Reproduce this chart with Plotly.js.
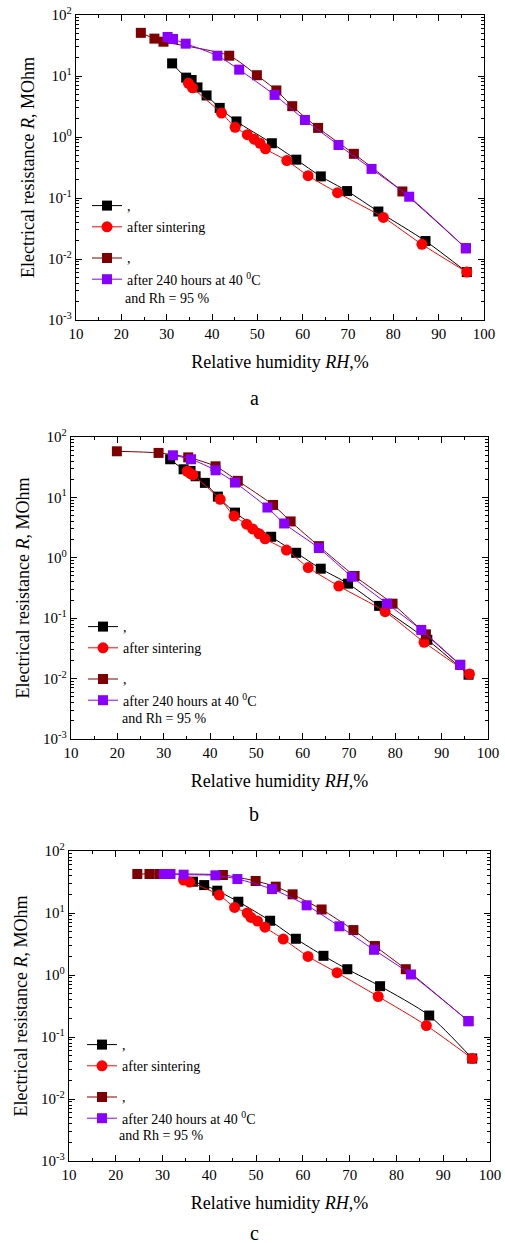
<!DOCTYPE html>
<html>
<head>
<meta charset="utf-8">
<script src="https://cdn.plot.ly/plotly-3.0.1.min.js"></script>
<style>html,body{margin:0;padding:0;background:#fff;}#chart{width:505px;height:1243px;}</style>
</head>
<body>
<div id="chart"></div>
<script>
// ---------- Panel a ----------
const aBlackX = [31.2, 34.3, 35.5, 36.8, 38.8, 41.7, 45.4, 53.2, 58.6, 64.0, 69.8, 76.7, 87.1, 96.2];
const aBlackY = [16.1, 9.4, 8.6, 6.5, 4.8, 3.0, 1.8, 0.79, 0.425, 0.226, 0.130, 0.060, 0.0197, 0.0061];
const aRedX = [34.8, 35.7, 42.1, 45.1, 47.8, 49.3, 50.6, 51.8, 56.5, 61.2, 67.7, 77.8, 86.3, 96.2];
const aRedY = [7.6, 6.4, 2.47, 1.44, 1.09, 0.92, 0.79, 0.64, 0.41, 0.232, 0.122, 0.048, 0.0174, 0.0061];
const aMaroonX = [24.3, 27.3, 29.3, 43.8, 49.9, 54.2, 57.7, 63.4, 71.3, 82.0, 96.0];
const aMaroonY = [51, 41, 36.5, 21.5, 10.3, 5.8, 3.2, 1.41, 0.53, 0.128, 0.015];
const aPurpleX = [30.2, 31.4, 34.2, 41.2, 46.0, 53.8, 60.5, 67.9, 75.2, 83.5, 96.0];
const aPurpleY = [43.6, 40.4, 33.9, 21.5, 12.7, 4.9, 1.90, 0.74, 0.30, 0.105, 0.015];

// ---------- Panel b ----------
const bBlackX = [31.4, 34.3, 35.8, 36.9, 38.9, 41.7, 45.4, 53.2, 58.6, 63.9, 69.8, 76.5, 86.9, 95.8];
const bBlackY = [42.8, 29.2, 27.4, 22.4, 17.4, 10.3, 5.6, 2.23, 1.21, 0.66, 0.373, 0.160, 0.044, 0.0116];
const bRedX = [35.1, 35.8, 36.3, 42.2, 45.2, 47.9, 49.2, 50.6, 51.9, 56.5, 61.2, 67.8, 77.8, 86.2, 96.0];
const bRedY = [27.1, 24.8, 23.6, 9.3, 4.9, 3.6, 3.0, 2.5, 2.06, 1.34, 0.69, 0.34, 0.128, 0.040, 0.0119];
const bMaroonX = [19.9, 28.9, 35.3, 41.2, 46.0, 53.6, 57.4, 63.5, 71.2, 79.4, 86.6, 94.0];
const bMaroonY = [58, 54.5, 46, 32.7, 18.8, 7.5, 4.0, 1.56, 0.50, 0.174, 0.054, 0.0169];
const bPurpleX = [32.0, 35.9, 41.2, 45.4, 52.4, 56.0, 63.5, 70.6, 78.2, 85.6, 94.0];
const bPurpleY = [49.8, 42.8, 28.1, 17.6, 6.8, 3.7, 1.45, 0.486, 0.174, 0.064, 0.0169];

// ---------- Panel c ----------
const cBlackX = [36.5, 38.9, 41.7, 46.2, 53.0, 58.5, 64.4, 69.5, 76.5, 87.0, 96.2];
const cBlackY = [32, 28.2, 22.9, 15.2, 7.5, 3.84, 2.04, 1.24, 0.66, 0.222, 0.045];
const cRedX = [34.5, 35.8, 42.1, 45.4, 48.1, 48.9, 50.3, 51.9, 55.8, 61.1, 67.3, 76.1, 86.4, 96.2];
const cRedY = [34, 31.6, 19.5, 12.3, 10, 8.5, 7.4, 5.9, 3.8, 1.99, 1.09, 0.45, 0.153, 0.045];
const cMaroonX = [24.6, 27.2, 29.3, 42.9, 49.9, 54.2, 57.8, 64.0, 70.8, 75.4, 82.0, 95.4];
const cMaroonY = [42.6, 42.6, 42.6, 41, 32.8, 26.6, 20, 11.4, 5.3, 2.93, 1.24, 0.18];
const cPurpleX = [30.3, 31.7, 34.5, 41.3, 46.0, 53.4, 60.8, 67.8, 75.2, 83.1, 95.4];
const cPurpleY = [42.6, 42.6, 41.5, 40.5, 35.3, 24.3, 13.3, 6.1, 2.55, 1.02, 0.18];

// ---------- Labels ----------
const seriesNames = [",", "after sintering", ",", "after 240 hours at 40 <sup>0</sup>C"];
const legendExtraLine = "and Rh = 95 %";
const yTickVals = [0.001, 0.01, 0.1, 1, 10, 100];
const yTickText = ["10<sup>-3</sup>", "10<sup>-2</sup>", "10<sup>-1</sup>", "10<sup>0</sup>", "10<sup>1</sup>", "10<sup>2</sup>"];
const xTickVals = [10, 20, 30, 40, 50, 60, 70, 80, 90, 100];
const panelLabels = ["a", "b", "c"];
const xTitle = "Relative humidity <i>RH</i>,%";
const yTitle = "Electrical resistance <i>R</i>, MOhm";

const FONT = '"Liberation Serif", "Times New Roman", serif';
const colors = ["#000000", "#ff0000", "#7f0000", "#8a00ff"];
const symbols = ["square", "circle", "square", "square"];

const panels = [
  {xs: [aBlackX, aRedX, aMaroonX, aPurpleX], ys: [aBlackY, aRedY, aMaroonY, aPurpleY]},
  {xs: [bBlackX, bRedX, bMaroonX, bPurpleX], ys: [bBlackY, bRedY, bMaroonY, bPurpleY]},
  {xs: [cBlackX, cRedX, cMaroonX, cPurpleX], ys: [cBlackY, cRedY, cMaroonY, cPurpleY]}
];

const W = 505, H = 1243;
const boxes = [
  {l: 76, r: 484, t: 15, b: 320, legY: 190, legX: 87, extraX: 123, extraY: 298, lab: 398},
  {l: 71, r: 488, t: 437, b: 739, legY: 611, legX: 83, extraX: 120, extraY: 718, lab: 814},
  {l: 69, r: 490, t: 851, b: 1161, legY: 1029, legX: 82, extraX: 117, extraY: 1135, lab: 1233}
];

const traces = [];
const layout = {
  width: W, height: H,
  margin: {l: 0, r: 0, t: 0, b: 0},
  paper_bgcolor: "#ffffff", plot_bgcolor: "#ffffff",
  font: {family: FONT, color: "#000", size: 15},
  showlegend: true,
  annotations: []
};

panels.forEach((p, pi) => {
  const sfx = pi === 0 ? "" : String(pi + 1);
  const legName = "legend" + sfx;
  for (let s = 0; s < 4; s++) {
    traces.push({
      type: "scatter", mode: "lines+markers",
      x: p.xs[s], y: p.ys[s],
      xaxis: "x" + sfx, yaxis: "y" + sfx,
      name: seriesNames[s],
      legend: legName,
      legendgroup: "g" + pi + "_" + (s < 2 ? 0 : 1),
      line: {color: colors[s], width: 1, shape: "spline", smoothing: 0.7},
      marker: {color: colors[s], symbol: symbols[s], size: s === 1 ? 11 : 10, line: {width: 0}}
    });
  }
  const bx = boxes[pi];
  layout["xaxis" + sfx] = {
    domain: [bx.l / W, bx.r / W],
    anchor: "y" + sfx,
    range: [10, 100],
    tickvals: xTickVals,
    ticks: "inside", ticklen: 6, tickwidth: 1, tickcolor: "#000",
    minor: {dtick: 5, ticks: "inside", ticklen: 3, tickwidth: 1, tickcolor: "#000", showgrid: false},
    showline: true, linecolor: "#000", linewidth: 1.2, mirror: "ticks",
    showgrid: false, zeroline: false,
    tickfont: {family: FONT, size: 15, color: "#000"},
    title: {text: xTitle, font: {family: FONT, size: 18, color: "#000"}, standoff: 14},
    automargin: false
  };
  layout["yaxis" + sfx] = {
    domain: [1 - bx.b / H, 1 - bx.t / H],
    anchor: "x" + sfx,
    type: "log",
    range: [-3, 2],
    tickmode: "array", tickvals: yTickVals, ticktext: yTickText,
    ticks: "inside", ticklen: 6, tickwidth: 1, tickcolor: "#000",
    minor: {dtick: "D1", ticks: "inside", ticklen: 3, tickwidth: 1, tickcolor: "#000", showgrid: false},
    showline: true, linecolor: "#000", linewidth: 1.2, mirror: "ticks",
    showgrid: false, zeroline: false,
    tickfont: {family: FONT, size: 15, color: "#000"},
    title: {text: yTitle, font: {family: FONT, size: 18, color: "#000"}, standoff: 8},
    automargin: false
  };
  layout[legName] = {
    x: bx.legX / W, y: 1 - bx.legY / H,
    xanchor: "left", yanchor: "top",
    bgcolor: "rgba(0,0,0,0)", borderwidth: 0,
    font: {family: FONT, size: 14, color: "#000"},
    tracegroupgap: 10, valign: "middle",
    itemwidth: 30
  };
  layout.annotations.push({
    xref: "paper", yref: "paper",
    x: bx.extraX / W, y: 1 - bx.extraY / H,
    xanchor: "left", yanchor: "middle",
    text: legendExtraLine, showarrow: false,
    font: {family: FONT, size: 14, color: "#000"}
  });
  layout.annotations.push({
    xref: "paper", yref: "paper",
    x: 254 / W, y: 1 - bx.lab / H,
    xanchor: "center", yanchor: "middle",
    text: panelLabels[pi], showarrow: false,
    font: {family: FONT, size: 20, color: "#000"}
  });
});

Plotly.newPlot("chart", traces, layout, {staticPlot: true, displayModeBar: false});
</script>
</body>
</html>
